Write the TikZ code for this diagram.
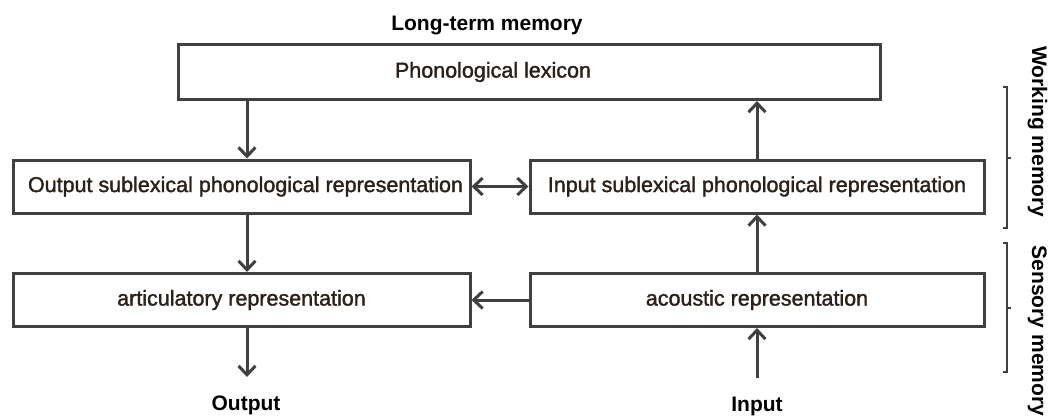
\documentclass[tikz,border=0pt]{standalone}
\usepackage{fontspec}
\setmainfont{Liberation Sans}
\newfontfamily\boxfont[FakeBold=1.6]{Liberation Sans}
\usetikzlibrary{arrows.meta,positioning}
\definecolor{linegray}{HTML}{404040}
\definecolor{boxtext}{HTML}{2B2119}

\begin{document}
\begin{tikzpicture}[x=1pt,y=-1pt,
    >={Straight Barb[length=9pt,width=17pt]},
    stage/.style={draw=linegray, line width=3pt, minimum height=53pt, inner sep=0pt,
        text=boxtext, font=\boxfont\fontsize{21.5}{24}\selectfont},
    flow/.style={draw=linegray, line width=3pt, ->},
    memlabel/.style={anchor=base, font=\bfseries\fontsize{21}{24}\selectfont},
    bracket/.style={draw=linegray, line width=2pt}]
    \useasboundingbox (0,0) rectangle (1049,416);

    % memory stores
    \node[stage, minimum width=702pt, minimum height=55pt] (lexicon) at (529,72) {Phonological lexicon\hspace*{72pt}};
    \node[stage, minimum width=457pt] (outsub) at (241.5,186.5) {Output sublexical phonological representation\hspace*{-8pt}};
    \node[stage, minimum width=454pt] (insub) at (757,186.5) {Input sublexical phonological representation};
    \node[stage, minimum width=457pt] (artic) at (241.5,300) {articulatory representation};
    \node[stage, minimum width=454pt] (acoustic) at (757,300) {acoustic representation};

    \node[memlabel] (ltm) at (487,30) {Long-term memory};
    \node[memlabel] (output) at (246,410) {Output};
    \node[memlabel] (input) at (757,411) {Input};
    \node[memlabel, rotate=-90] (wm) at (1032,132) {Working memory};
    \node[memlabel, rotate=-90] (sm) at (1032,331) {Sensory memory};

    % columns of the arrows
    \coordinate (lx) at (247,0);
    \coordinate (rx) at (757,0);
    \coordinate (outend) at (247,377);
    \coordinate (instart) at (757,378);

    \draw[flow] (lexicon.south -| lx) -- (outsub.north -| lx);
    \draw[flow] (outsub.south -| lx) -- (artic.north -| lx);
    \draw[flow] (artic.south -| lx) -- (outend);
    \draw[flow] (instart) -- (acoustic.south -| rx);
    \draw[flow] (acoustic.north -| rx) -- (insub.south -| rx);
    \draw[flow] (insub.north -| rx) -- (lexicon.south -| rx);
    \draw[flow, <->] (outsub) -- (insub);
    \draw[flow] (acoustic) -- (artic);

    % brackets
    \draw[bracket] (1003,87) -- (1007,87) -- (1007,228) -- (1003,228) (1007,158) -- (1011,158);
    \draw[bracket] (1003,243) -- (1007,243) -- (1007,372) -- (1003,372) (1007,308) -- (1011,308);
\end{tikzpicture}
\end{document}
